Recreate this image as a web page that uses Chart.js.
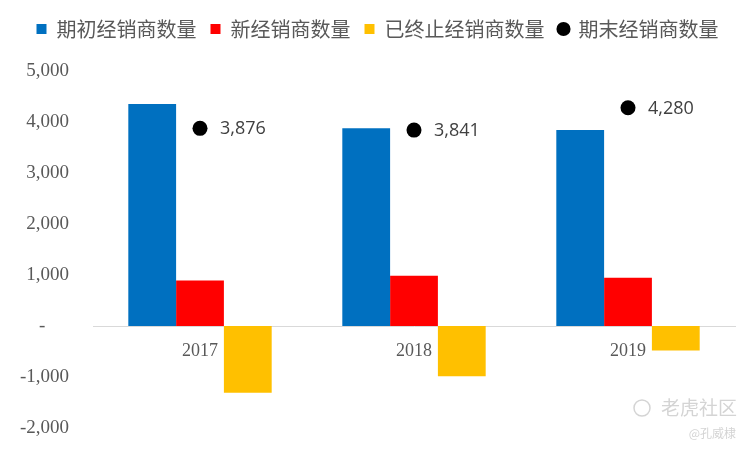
<!DOCTYPE html>
<html>
<head>
<meta charset="utf-8">
<script src="https://cdn.jsdelivr.net/npm/chart.js@4"></script>
<style>
    body { margin: 0; background: #fff; }
</style>
</head>
<body>
<canvas id="dealerChart" width="751" height="451"></canvas>
<script>
// data
const categories = ['2017', '2018', '2019'];
const openingDealers = [4355, 3876, 3841];
const newDealers = [890, 986, 947];
const terminatedDealers = [-1310, -985, -480];
const closingDealers = [3876, 3841, 4280];
const seriesNames = ['期初经销商数量', '新经销商数量', '已终止经销商数量', '期末经销商数量'];

const serifFont = '"Liberation Serif", "DejaVu Serif", serif';

// value labels next to the black dots + the watermark in the corner
const pointLabelPlugin = {
    id: 'pointLabels',
    beforeInit(chart) {
        // extra room under the legend
        const origFit = chart.legend.fit;
        chart.legend.fit = function () {
            origFit.bind(chart.legend)();
            this.height += 22;
        };
    },
    afterDatasetsDraw(chart) {
        const ctx = chart.ctx;
        const meta = chart.getDatasetMeta(3);
        ctx.save();
        ctx.font = '18px "Open Sans", sans-serif';
        ctx.fillStyle = '#404040';
        ctx.textAlign = 'left';
        ctx.textBaseline = 'middle';
        meta.data.forEach((pt, i) => {
            ctx.fillText(closingDealers[i].toLocaleString('en-US'), pt.x + 20, pt.y + 1);
        });
        ctx.restore();
    },
    afterDraw(chart) {
        const ctx = chart.ctx;
        ctx.save();
        ctx.fillStyle = '#d4d4d4';
        ctx.strokeStyle = '#d4d4d4';
        ctx.lineWidth = 1.5;
        ctx.beginPath();
        ctx.arc(642, 408, 8, 0, Math.PI * 2);
        ctx.stroke();
        ctx.textAlign = 'right';
        ctx.textBaseline = 'middle';
        ctx.font = '19px "Noto Sans CJK SC", sans-serif';
        ctx.fillText('老虎社区', 737, 408);
        ctx.font = '12px "Noto Sans CJK SC", sans-serif';
        ctx.fillText('@孔威棣', 736, 433);
        ctx.restore();
    }
};

const ctx = document.getElementById('dealerChart').getContext('2d');
const dealerChart = new Chart(ctx, {
    type: 'bar',
    data: {
        labels: categories,
        datasets: [{
            label: seriesNames[0],
            data: openingDealers,
            backgroundColor: '#0070C0',
            pointStyle: 'rect',
            order: 1
        }, {
            label: seriesNames[1],
            data: newDealers,
            backgroundColor: '#FF0000',
            pointStyle: 'rect',
            order: 1
        }, {
            label: seriesNames[2],
            data: terminatedDealers,
            backgroundColor: '#FFC000',
            pointStyle: 'rect',
            order: 1
        }, {
            type: 'line',
            label: seriesNames[3],
            data: closingDealers,
            showLine: false,
            pointStyle: 'circle',
            pointRadius: 7.5,
            pointBackgroundColor: '#000',
            pointBorderWidth: 0,
            backgroundColor: '#000',
            borderColor: '#000',
            order: 0
        }]
    },
    options: {
        responsive: false,
        animation: false,
        devicePixelRatio: 1,
        categoryPercentage: 0.67,
        barPercentage: 1.0,
        layout: {
            padding: { top: 5, left: 20, right: 16, bottom: 23 }
        },
        scales: {
            x: {
                position: { y: 0 },
                grid: { display: false, drawTicks: false },
                border: { display: true, color: '#d9d9d9', width: 1 },
                ticks: {
                    color: '#595959',
                    padding: 14,
                    font: { family: serifFont, size: 18 }
                },
                afterFit: function (scale) {
                    scale.height = 0;
                }
            },
            y: {
                min: -2000,
                max: 5000,
                grid: { display: false, drawTicks: false },
                border: { display: false },
                ticks: {
                    stepSize: 1000,
                    color: '#595959',
                    padding: 24,
                    font: { family: serifFont, size: 19 },
                    callback: function (value) {
                        if (value === 0) {
                            return '-     ';
                        }
                        return value.toLocaleString('en-US');
                    }
                },
                afterFit: function (scale) {
                    scale.width = 73;
                    // tick padding would otherwise also pad the top/bottom
                    scale.paddingTop = 12;
                    scale.paddingBottom = 12;
                }
            }
        },
        plugins: {
            legend: {
                position: 'top',
                labels: {
                    usePointStyle: true,
                    boxWidth: 10,
                    boxHeight: 10,
                    padding: 14,
                    color: '#595959',
                    font: { family: '"Noto Sans CJK SC", sans-serif', size: 20 },
                    sort: (a, b) => a.datasetIndex - b.datasetIndex
                }
            },
            tooltip: { enabled: false }
        }
    },
    plugins: [pointLabelPlugin]
});
</script>
</body>
</html>
